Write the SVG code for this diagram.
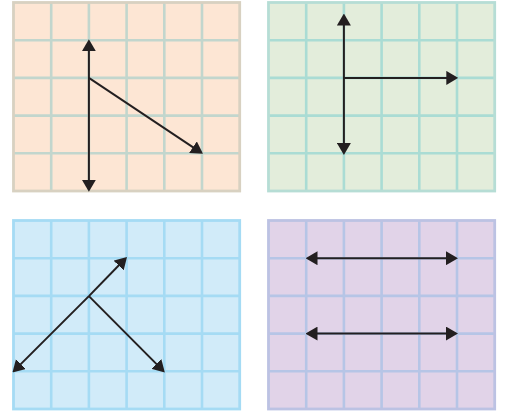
<svg xmlns="http://www.w3.org/2000/svg" width="506" height="413" viewBox="0 0 506 413">
<defs>
<style>
.arr{stroke:#231f20;stroke-width:2;fill:none}
.grid{fill:none;stroke-width:2.6}
.border{fill:none;stroke-width:2.8}
</style>
<marker id="ah" viewBox="0 0 12 14" refX="7" refY="7" markerWidth="12" markerHeight="14" markerUnits="userSpaceOnUse" orient="auto-start-reverse">
<path d="M0,0 L12,7 L0,14 Z" fill="#231f20"/>
</marker>
<path id="gl" d="M37.7,0V188.5M75.4,0V188.5M113.1,0V188.5M150.8,0V188.5M188.5,0V188.5M0,37.7H226.2M0,75.4H226.2M0,113.1H226.2M0,150.8H226.2"/>
</defs>
<g id="panel1" transform="translate(13.5,2.5)">
<rect width="226.2" height="188.5" fill="#fde6d4"/>
<use href="#gl" class="grid" stroke="#c2d6cd"/>
<rect width="226.2" height="188.5" class="border" stroke="#d8d1c1"/>
</g>
<g id="panel2" transform="translate(268.5,2.5)">
<rect width="226.2" height="188.5" fill="#e3eddb"/>
<use href="#gl" class="grid" stroke="#aadcd4"/>
<rect width="226.2" height="188.5" class="border" stroke="#b6ddd5"/>
</g>
<g id="panel3" transform="translate(13.5,220.5)">
<rect width="226.2" height="188.5" fill="#d1ebf9"/>
<use href="#gl" class="grid" stroke="#a5dbf4"/>
<rect width="226.2" height="188.5" class="border" stroke="#a5dbf4"/>
</g>
<g id="panel4" transform="translate(268.5,220.5)">
<rect width="226.2" height="188.5" fill="#e1d3e8"/>
<use href="#gl" class="grid" stroke="#b6c5e6"/>
<rect width="226.2" height="188.5" class="border" stroke="#bcc2e3"/>
</g>
<g id="connectors">
<line class="arr" x1="88.9" y1="44.2" x2="88.9" y2="186.8" marker-start="url(#ah)" marker-end="url(#ah)"/>
<line class="arr" x1="88.9" y1="77.9" x2="198.8" y2="151.1" marker-end="url(#ah)"/>
<line class="arr" x1="343.9" y1="18.5" x2="343.9" y2="150" marker-start="url(#ah)" marker-end="url(#ah)"/>
<line class="arr" x1="343.9" y1="77.9" x2="453.3" y2="77.9" marker-end="url(#ah)"/>
<line class="arr" x1="88.9" y1="296.1" x2="123.5" y2="260.5" marker-end="url(#ah)"/>
<line class="arr" x1="88.9" y1="296.1" x2="161.3" y2="368.9" marker-end="url(#ah)"/>
<line class="arr" x1="88.9" y1="296.1" x2="16" y2="368.9" marker-end="url(#ah)"/>
<line class="arr" x1="310.5" y1="258.2" x2="453" y2="258.2" marker-start="url(#ah)" marker-end="url(#ah)"/>
<line class="arr" x1="310.5" y1="333.6" x2="453" y2="333.6" marker-start="url(#ah)" marker-end="url(#ah)"/>
</g>
</svg>
